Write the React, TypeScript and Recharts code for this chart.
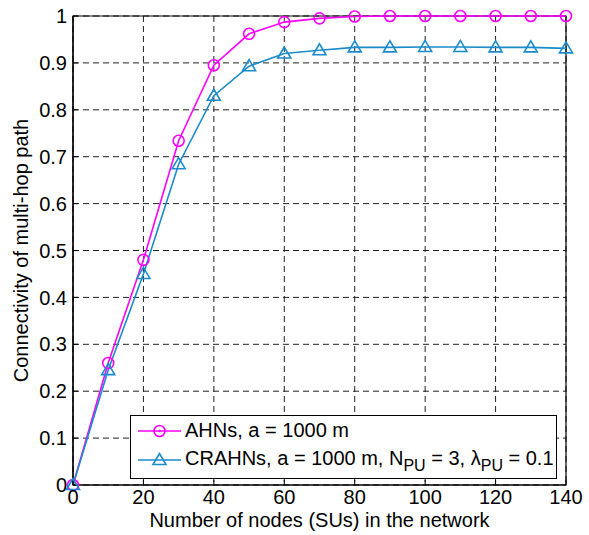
import React from "react";
import {
  LineChart,
  Line,
  XAxis,
  YAxis,
  CartesianGrid,
  Legend,
  ReferenceArea,
} from "recharts";

const nodes = [0, 10, 20, 30, 40, 50, 60, 70, 80, 90, 100, 110, 120, 130, 140];
const ahn = [0, 0.26, 0.48, 0.734, 0.895, 0.962, 0.987, 0.995, 0.999, 1, 1, 1, 1, 1, 1];
const crahn = [0, 0.245, 0.45, 0.684, 0.83, 0.893, 0.92, 0.927, 0.933, 0.933, 0.934, 0.934, 0.933, 0.933, 0.931];
const xTicks = [0, 20, 40, 60, 80, 100, 120, 140];
const yTicks = [0, 0.1, 0.2, 0.3, 0.4, 0.5, 0.6, 0.7, 0.8, 0.9, 1];

const data = nodes.map((n, i) => ({ n, ahn: ahn[i], crahn: crahn[i] }));

const MAGENTA = "#FF00FF";
const BLUE = "#1A8BCB";
const FONT = "'Liberation Sans', Arial, sans-serif";

// triangle marker like matlab '^'
const Tri = (props: any) => {
  const { cx, cy, index } = props;
  if (cx == null || cy == null) return <g key={index} />;
  return (
    <polygon
      key={index}
      points={`${cx},${cy - 6.5} ${cx - 6.5},${cy + 4.5} ${cx + 6.5},${cy + 4.5}`}
      fill="none"
      stroke={BLUE}
      strokeWidth={1.6}
    />
  );
};

const Circ = (props: any) => {
  const { cx, cy, index } = props;
  if (cx == null || cy == null) return <g key={index} />;
  return <circle key={index} cx={cx} cy={cy} r={5.5} fill="none" stroke={MAGENTA} strokeWidth={1.6} />;
};

const subStyle: React.CSSProperties = { fontSize: 16, verticalAlign: -6, lineHeight: 0 };

const LegendBox = () => (
  <div
    style={{
      width: 427,
      height: 64,
      boxSizing: "border-box",
      border: "1.5px solid #000",
      background: "#fff",
      fontFamily: FONT,
      fontSize: 20,
      color: "#000",
      position: "relative",
      textAlign: "left",
    }}
  >
    <svg width={60} height={62} style={{ position: "absolute", left: 0, top: 0 }}>
      <line x1={7} y1={15} x2={50} y2={15} stroke={MAGENTA} strokeWidth={1.6} />
      <circle cx={28.5} cy={15} r={5.5} fill="none" stroke={MAGENTA} strokeWidth={1.6} />
      <circle cx={28.5} cy={15} r={1.2} fill={MAGENTA} />
      <line x1={7} y1={44} x2={50} y2={44} stroke={BLUE} strokeWidth={1.6} />
      <polygon points="28.5,37.5 22,48.5 35,48.5" fill="none" stroke={BLUE} strokeWidth={1.6} />
    </svg>
    <div style={{ position: "absolute", left: 54, top: 2, whiteSpace: "nowrap", lineHeight: "24px" }}>
      AHNs, a = 1000 m
    </div>
    <div style={{ position: "absolute", left: 54, top: 30, whiteSpace: "nowrap", lineHeight: "24px" }}>
      CRAHNs, a = 1000 m, N<sub style={subStyle}>PU</sub> = 3,{" "}
      λ<sub style={subStyle}>PU</sub> = 0.1
    </div>
  </div>
);

export default function App() {
  return (
    <div style={{ position: "absolute", left: 0, top: 0, width: 589, height: 535, background: "#fff" }}>
      <LineChart
        width={589}
        height={535}
        data={data}
        margin={{ top: 16, right: 23, left: 0, bottom: 0 }}
        style={{ fontFamily: FONT }}
      >
        <CartesianGrid stroke="#222" strokeDasharray="6 4" strokeWidth={1} />
        <XAxis
          dataKey="n"
          type="number"
          domain={[0, 140]}
          ticks={xTicks}
          height={50}
          axisLine={{ stroke: "#000", strokeWidth: 1.2 }}
          tickLine={{ stroke: "#000" }}
          tickSize={-5}
          tickMargin={10}
          tick={{ fill: "#000", fontSize: 20 }}
          label={{
            value: "Number of nodes (SUs) in the network",
            position: "insideBottom",
            offset: 8,
            fill: "#000",
            fontSize: 20,
          }}
        />
        <YAxis
          type="number"
          domain={[0, 1]}
          ticks={yTicks}
          width={73}
          axisLine={{ stroke: "#000", strokeWidth: 1.2 }}
          tickLine={{ stroke: "#000" }}
          tickSize={-5}
          tickMargin={11}
          tick={{ fill: "#000", fontSize: 20 }}
          tickFormatter={(v: number) => String(v)}
          label={{
            value: "Connectivity of multi-hop path",
            angle: -90,
            position: "insideLeft",
            offset: 21,
            fill: "#000",
            fontSize: 20,
            style: { textAnchor: "middle" },
          }}
        />
        <ReferenceArea x1={0} x2={140} y1={0} y2={1} fill="none" stroke="#000" strokeWidth={1.2} fillOpacity={0} />
        <Line
          dataKey="ahn"
          stroke={MAGENTA}
          strokeWidth={1.6}
          dot={<Circ />}
          isAnimationActive={false}
        />
        <Line
          dataKey="crahn"
          stroke={BLUE}
          strokeWidth={1.6}
          dot={<Tri />}
          isAnimationActive={false}
        />
        <Legend
          layout="vertical"
          align="center"
          verticalAlign="middle"
          content={<LegendBox />}
          wrapperStyle={{ left: 130, top: 415, width: 427 }}
        />
      </LineChart>
    </div>
  );
}
